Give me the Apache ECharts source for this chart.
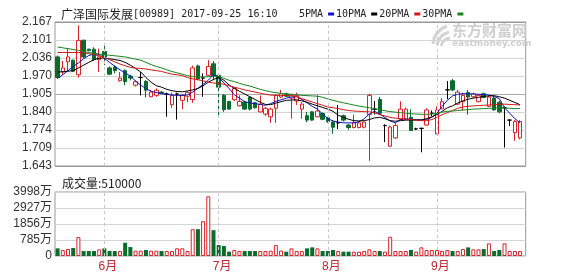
<!DOCTYPE html>
<html><head><meta charset="utf-8">
<script src="https://cdn.jsdelivr.net/npm/echarts@6/dist/echarts.min.js"></script>
<style>html,body{margin:0;padding:0;background:#fff}#c{width:578px;height:276px}</style>
</head><body><div id="c"></div>
<script>
const dates = [
'2017-05-18','2017-05-19','2017-05-22','2017-05-23','2017-05-24','2017-05-25','2017-05-26','2017-05-29','2017-05-31',
'2017-06-01','2017-06-02','2017-06-05','2017-06-06','2017-06-07','2017-06-08','2017-06-09','2017-06-12','2017-06-13','2017-06-14','2017-06-15','2017-06-16','2017-06-19','2017-06-20','2017-06-21','2017-06-22','2017-06-23','2017-06-26','2017-06-27','2017-06-28','2017-06-29','2017-06-30',
'2017-07-03','2017-07-04','2017-07-05','2017-07-06','2017-07-07','2017-07-10','2017-07-11','2017-07-12','2017-07-13','2017-07-14','2017-07-17','2017-07-18','2017-07-19','2017-07-20','2017-07-21','2017-07-24','2017-07-25','2017-07-26','2017-07-27','2017-07-28','2017-07-31',
'2017-08-01','2017-08-02','2017-08-03','2017-08-04','2017-08-07','2017-08-08','2017-08-09','2017-08-10','2017-08-11','2017-08-14','2017-08-15','2017-08-16','2017-08-17','2017-08-18','2017-08-21','2017-08-22','2017-08-24','2017-08-25','2017-08-28','2017-08-29','2017-08-30',
'2017-09-01','2017-09-04','2017-09-05','2017-09-06','2017-09-07','2017-09-08','2017-09-11','2017-09-12','2017-09-13','2017-09-14','2017-09-15','2017-09-18','2017-09-19','2017-09-20','2017-09-21','2017-09-22','2017-09-25'
];
const openP = [2.040,1.985,2.022,2.028,1.975,2.101,2.068,2.068,2.030,2.060,2.000,2.003,1.953,1.990,1.970,1.937,1.965,1.951,1.895,1.900,1.912,1.905,1.866,1.905,1.882,1.897,1.885,2.007,1.963,1.973,2.015,1.973,1.900,1.878,1.884,1.862,1.876,1.893,1.873,1.840,1.832,1.822,1.853,1.894,1.905,1.890,1.880,1.850,1.826,1.840,1.822,1.834,1.819,1.803,1.800,1.826,1.792,1.783,1.783,1.784,1.830,1.850,1.885,1.790,1.715,1.745,1.814,1.814,1.820,1.778,1.780,1.792,1.835,1.760,1.851,1.920,1.953,1.868,1.877,1.910,1.895,1.877,1.906,1.860,1.890,1.875,1.855,1.810,1.765,1.745];
const closeP = [1.965,2.000,2.040,1.988,2.100,2.040,2.063,2.030,2.040,2.040,1.977,1.990,1.963,1.950,1.963,1.950,1.965,1.919,1.912,1.919,1.908,1.905,1.900,1.905,1.900,1.910,2.000,1.960,1.963,2.005,1.970,1.930,1.848,1.850,1.925,1.878,1.850,1.850,1.855,1.868,1.853,1.850,1.900,1.906,1.897,1.900,1.900,1.868,1.810,1.810,1.843,1.813,1.805,1.784,1.800,1.810,1.783,1.800,1.800,1.803,1.900,1.850,1.835,1.790,1.785,1.790,1.850,1.850,1.772,1.778,1.780,1.847,1.835,1.847,1.877,1.920,1.920,1.912,1.900,1.894,1.905,1.900,1.892,1.894,1.847,1.840,1.855,1.810,1.805,1.805];
const lowP = [1.960,1.975,1.985,1.985,1.965,2.035,2.060,2.025,1.985,2.010,1.975,1.980,1.950,1.937,1.955,1.932,1.900,1.893,1.893,1.895,1.905,1.822,1.855,1.812,1.850,1.876,1.873,1.955,1.895,1.970,1.955,1.818,1.840,1.848,1.880,1.860,1.848,1.845,1.852,1.838,1.825,1.800,1.800,1.890,1.895,1.815,1.865,1.815,1.802,1.808,1.820,1.810,1.800,1.760,1.777,1.805,1.775,1.780,1.780,1.780,1.662,1.830,1.830,1.730,1.712,1.742,1.810,1.810,1.770,1.774,1.693,1.790,1.825,1.758,1.850,1.886,1.915,1.865,1.845,1.830,1.890,1.875,1.890,1.858,1.845,1.835,1.710,1.788,1.735,1.740];
const highP = [2.045,2.025,2.070,2.030,2.155,2.101,2.070,2.075,2.070,2.080,2.005,2.010,1.985,1.995,1.975,1.955,1.985,1.955,1.920,1.925,1.915,1.910,1.910,1.910,1.905,1.915,2.008,2.012,1.980,2.028,2.025,1.975,1.905,1.880,1.930,1.900,1.880,1.895,1.876,1.900,1.858,1.855,1.905,1.920,1.910,1.905,1.910,1.875,1.840,1.842,1.900,1.838,1.822,1.810,1.865,1.830,1.797,1.830,1.805,1.805,1.906,1.880,1.894,1.795,1.790,1.800,1.878,1.856,1.850,1.782,1.782,1.853,1.845,1.860,1.890,1.952,1.960,1.920,1.910,1.920,1.910,1.905,1.910,1.900,1.895,1.880,1.860,1.812,1.810,1.810];
const volumes = [476,373,435,497,1180,310,310,310,414,476,310,310,310,828,559,331,331,373,331,331,310,310,310,480,480,310,1677,1677,2173,3726,1615,683,621,270,373,310,310,310,310,310,310,330,683,340,270,476,310,310,476,538,476,310,310,373,310,270,270,270,270,310,414,310,310,270,1200,310,310,310,373,270,538,373,373,373,310,373,310,310,435,538,414,414,435,787,310,373,787,310,310,310];
const ma5 = [1.962,1.975,1.990,2.005,2.018,2.033,2.045,2.050,2.050,2.035,2.020,2.006,1.993,1.982,1.970,1.952,1.937,1.925,1.915,1.910,1.906,1.904,1.901,1.900,1.900,1.902,1.912,1.926,1.940,1.955,1.975,1.966,1.945,1.925,1.902,1.890,1.877,1.872,1.870,1.867,1.864,1.870,1.878,1.884,1.890,1.894,1.895,1.885,1.873,1.860,1.850,1.832,1.815,1.807,1.803,1.800,1.800,1.800,1.804,1.815,1.833,1.842,1.832,1.819,1.807,1.800,1.812,1.814,1.813,1.812,1.810,1.812,1.820,1.835,1.860,1.882,1.898,1.904,1.906,1.906,1.905,1.904,1.903,1.901,1.896,1.888,1.855,1.835,1.815,1.800];
const ma10 = [1.985,1.986,1.988,1.990,2.000,2.010,2.020,2.030,2.035,2.036,2.033,2.030,2.027,2.020,2.010,1.998,1.985,1.965,1.948,1.935,1.930,1.922,1.917,1.914,1.913,1.916,1.920,1.925,1.935,1.948,1.958,1.965,1.955,1.938,1.925,1.915,1.905,1.895,1.885,1.875,1.867,1.866,1.872,1.877,1.882,1.883,1.884,1.880,1.875,1.868,1.862,1.856,1.850,1.842,1.828,1.820,1.813,1.808,1.807,1.808,1.812,1.818,1.820,1.815,1.808,1.806,1.808,1.810,1.810,1.810,1.811,1.815,1.822,1.830,1.842,1.855,1.862,1.872,1.880,1.886,1.890,1.893,1.896,1.898,1.899,1.895,1.890,1.882,1.874,1.866];
const ma20 = [2.056,2.056,2.056,2.056,2.056,2.055,2.052,2.048,2.044,2.038,2.030,2.022,2.014,2.008,2.002,1.999,1.998,1.996,1.993,1.990,1.987,1.982,1.977,1.975,1.972,1.965,1.960,1.957,1.953,1.948,1.945,1.944,1.940,1.935,1.930,1.925,1.920,1.916,1.912,1.908,1.904,1.901,1.900,1.900,1.899,1.898,1.895,1.888,1.882,1.876,1.870,1.864,1.858,1.855,1.852,1.848,1.845,1.843,1.842,1.841,1.840,1.836,1.830,1.825,1.820,1.817,1.815,1.813,1.812,1.810,1.808,1.808,1.812,1.820,1.830,1.837,1.845,1.853,1.858,1.860,1.862,1.863,1.864,1.865,1.866,1.868,1.868,1.867,1.866,1.865];
const ma30 = [2.076,2.073,2.070,2.067,2.064,2.060,2.056,2.053,2.050,2.048,2.046,2.044,2.042,2.040,2.036,2.032,2.028,2.020,2.012,2.005,2.000,1.993,1.987,1.982,1.977,1.972,1.968,1.967,1.967,1.968,1.970,1.969,1.962,1.955,1.950,1.944,1.938,1.934,1.928,1.922,1.917,1.913,1.910,1.907,1.905,1.904,1.902,1.900,1.899,1.898,1.897,1.893,1.887,1.882,1.877,1.873,1.869,1.865,1.861,1.858,1.855,1.852,1.848,1.844,1.841,1.839,1.837,1.835,1.833,1.832,1.831,1.831,1.832,1.835,1.839,1.842,1.843,1.845,1.847,1.848,1.850,1.851,1.852,1.853,1.854,1.855,1.854,1.853,1.852,1.852];
const priceTicks = ['1.643','1.709','1.774','1.840','1.905','1.970','2.036','2.101','2.167'];
const volTicks = ['0','785万','1856万','2927万','3998万'];
const maNames = ['5PMA','10PMA','20PMA','30PMA'];

const RED = '#d9222a', GREEN = '#0b6b2f';
const candles = dates.map((d, i) => [openP[i], closeP[i], lowP[i], highP[i]]);
const volData = volumes.map((v, i) => closeP[i] >= openP[i]
  ? { value: v, itemStyle: { color: '#fff', borderColor: RED, borderWidth: 1 } }
  : { value: v, itemStyle: { color: GREEN } });
const monthStart = {};
dates.forEach((d, i) => { if (i > 0 && d.slice(5, 7) !== dates[i - 1].slice(5, 7)) monthStart[i] = true; });
const monthDates = dates.filter((d, i) => monthStart[i]);
const mline = {
  silent: true, symbol: ['none', 'none'], label: { show: false },
  lineStyle: { color: '#c8c8c8', type: [3, 3], width: 1 },
  data: monthDates.map(d => ({ xAxis: d }))
};
const logoStroke = { stroke: '#d4d4d4', lineWidth: 3, fill: null };
const dataW = 467.7;
const chart = echarts.init(document.getElementById('c'), null, { renderer: 'canvas' });
chart.setOption({
  animation: false,
  backgroundColor: '#fff',
  title: [
    { left: 56, top: 3, text: '{c|广泽国际发展}{a|[00989] 2017-09-25 16:10}',
      textStyle: { fontWeight: 'normal', rich: { c: { fontFamily: 'Noto Sans CJK SC', fontSize: 12, fontWeight: 'normal', color: '#222' },
                           a: { fontFamily: 'DejaVu Sans Mono', fontSize: 10, fontWeight: 'normal', color: '#222' } } } },
    { left: 57, top: 172, text: '成交量:510000',
      textStyle: { fontFamily: 'Noto Sans CJK SC', fontSize: 12, fontWeight: 'normal', color: '#222' } }
  ],
  legend: {
    data: maNames, left: 294, top: 4, align: 'right', icon: 'rect', itemWidth: 6, itemHeight: 3, itemGap: 2,
    textStyle: { fontFamily: 'DejaVu Sans Mono', fontSize: 10, color: '#222' }
  },
  graphic: [
    { type: 'bezierCurve', z: 0, shape: { x1: 433, y1: 44, cpx1: 434, cpy1: 31, x2: 447, y2: 26 }, style: logoStroke },
    { type: 'bezierCurve', z: 0, shape: { x1: 437, y1: 45, cpx1: 439, cpy1: 35, x2: 449, y2: 32 }, style: logoStroke },
    { type: 'bezierCurve', z: 0, shape: { x1: 441, y1: 46, cpx1: 443, cpy1: 39, x2: 450, y2: 38 }, style: logoStroke },
    { type: 'text', left: 452, top: 23, z: 0, style: { text: '东方财富网', font: 'bold 15px "Noto Sans CJK SC"', fill: '#cfcfcf' } },
    { type: 'text', left: 452, top: 39, z: 0, style: { text: 'eastmoney.com', font: 'bold 9px "DejaVu Sans"', fill: '#cfcfcf' } }
  ],
  grid: [
    { left: 55, top: 22, width: dataW, height: 144 },
    { left: 55, top: 192, width: dataW, height: 64 },
    { left: 55, top: 22, width: 470.7, height: 144, show: true, borderColor: '#999', borderWidth: 1 },
    { left: 55, top: 192, width: 470.7, height: 64, show: true, borderColor: '#999', borderWidth: 1 }
  ],
  xAxis: [
    { type: 'category', gridIndex: 0, data: dates, boundaryGap: true, axisLine: { show: false }, axisTick: { show: false }, axisLabel: { show: false }, splitLine: { show: false } },
    { type: 'category', gridIndex: 1, data: dates, boundaryGap: true, axisLine: { show: false }, axisTick: { show: false }, splitLine: { show: false },
      axisLabel: { interval: (i) => !!monthStart[i], formatter: (v) => Number(v.slice(5, 7)) + '月',
        color: '#c0282d', fontSize: 12, fontFamily: 'Liberation Sans, Noto Sans CJK SC', margin: 5, padding: [0, 0, 0, 7] } },
    { type: 'value', gridIndex: 2, min: 0, max: 1, show: false },
    { type: 'value', gridIndex: 3, min: 0, max: 1, show: false }
  ],
  yAxis: [
    { type: 'value', gridIndex: 0, min: 1.643, max: 2.167, show: false, splitLine: { show: false } },
    { type: 'value', gridIndex: 1, min: 0, max: 3998, show: false, splitLine: { show: false } },
    { type: 'value', gridIndex: 2, min: 0, max: 8, interval: 1, axisLine: { show: false }, axisTick: { show: false },
      axisLabel: { formatter: (v) => priceTicks[v], margin: 3, color: '#333', fontSize: 12, fontFamily: 'Liberation Sans, Arial' },
      splitLine: { lineStyle: { width: 1, color: ['#999', '#d4d4d4', '#d4d4d4', '#d4d4d4', '#aaa', '#d4d4d4', '#d4d4d4', '#d4d4d4', '#999'] } } },
    { type: 'value', gridIndex: 3, min: 0, max: 4, interval: 1, axisLine: { show: false }, axisTick: { show: false },
      axisLabel: { formatter: (v) => volTicks[v], margin: 3, color: '#333', fontSize: 12, fontFamily: 'Liberation Sans, Noto Sans CJK SC' },
      splitLine: { lineStyle: { width: 1, color: '#d4d4d4' } } }
  ],
  series: [
    { type: 'candlestick', name: 'K', xAxisIndex: 0, yAxisIndex: 0, data: candles, barWidth: 4,
      itemStyle: { color: '#fff', color0: GREEN, borderColor: RED, borderColor0: GREEN, borderColorDoji: '#000', borderWidth: 1 },
      markLine: mline },
    { type: 'line', name: maNames[0], xAxisIndex: 0, yAxisIndex: 0, data: ma5, color: '#1010c0', showSymbol: false, lineStyle: { width: 1 }, z: 3 },
    { type: 'line', name: maNames[1], xAxisIndex: 0, yAxisIndex: 0, data: ma10, color: '#000', showSymbol: false, lineStyle: { width: 1 }, z: 3 },
    { type: 'line', name: maNames[2], xAxisIndex: 0, yAxisIndex: 0, data: ma20, color: '#d01818', showSymbol: false, lineStyle: { width: 1 }, z: 3 },
    { type: 'line', name: maNames[3], xAxisIndex: 0, yAxisIndex: 0, data: ma30, color: '#16861e', showSymbol: false, lineStyle: { width: 1 }, z: 3 },
    { type: 'bar', name: 'VOL', xAxisIndex: 1, yAxisIndex: 1, data: volData, barWidth: 4, markLine: mline }
  ]
});
</script></body></html>
